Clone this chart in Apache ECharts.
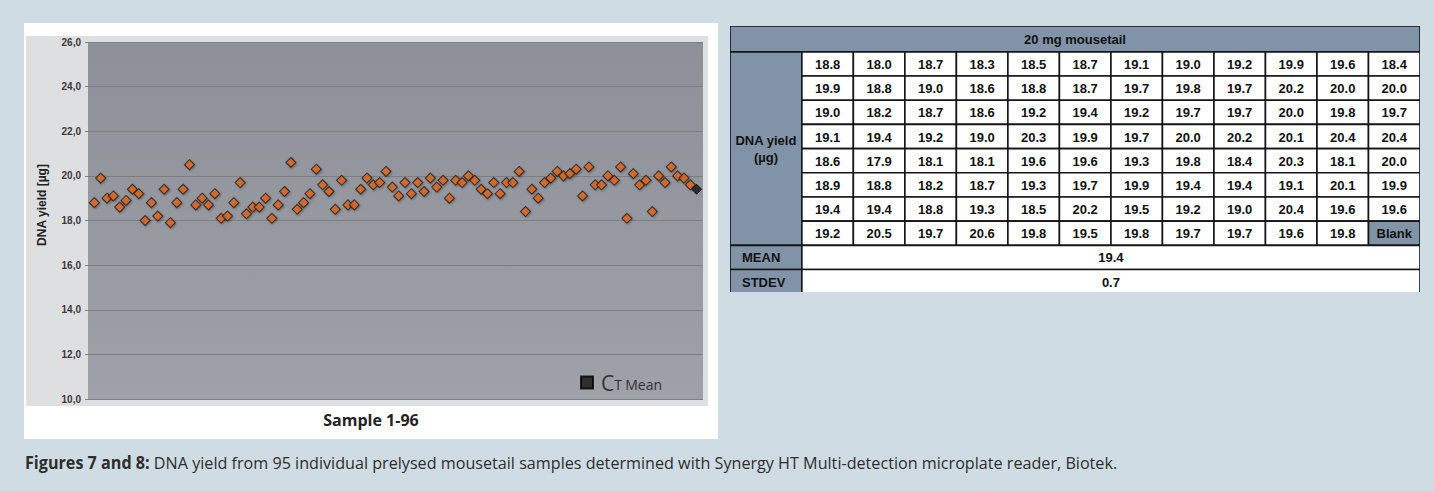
<!DOCTYPE html>
<html>
<head>
<meta charset="utf-8">
<script src="https://cdn.jsdelivr.net/npm/echarts@6/dist/echarts.min.js"></script>
<style>
html,body{margin:0;padding:0;background:#cfdce4;}
#chart{width:1434px;height:491px;}
</style>
</head>
<body>
<div id="chart"></div>
<script>
// ---- DATA (sample order 1..95, plate column by column, 8 wells per column) ----
const plateCol1  = [18.8, 19.9, 19.0, 19.1, 18.6, 18.9, 19.4, 19.2];
const plateCol2  = [18.0, 18.8, 18.2, 19.4, 17.9, 18.8, 19.4, 20.5];
const plateCol3  = [18.7, 19.0, 18.7, 19.2, 18.1, 18.2, 18.8, 19.7];
const plateCol4  = [18.3, 18.6, 18.6, 19.0, 18.1, 18.7, 19.3, 20.6];
const plateCol5  = [18.5, 18.8, 19.2, 20.3, 19.6, 19.3, 18.5, 19.8];
const plateCol6  = [18.7, 18.7, 19.4, 19.9, 19.6, 19.7, 20.2, 19.5];
const plateCol7  = [19.1, 19.7, 19.2, 19.7, 19.3, 19.9, 19.5, 19.8];
const plateCol8  = [19.0, 19.8, 19.7, 20.0, 19.8, 19.4, 19.2, 19.7];
const plateCol9  = [19.2, 19.7, 19.7, 20.2, 18.4, 19.4, 19.0, 19.7];
const plateCol10 = [19.9, 20.2, 20.0, 20.1, 20.3, 19.1, 20.4, 19.6];
const plateCol11 = [19.6, 20.0, 19.8, 20.4, 18.1, 20.1, 19.6, 19.8];
const plateCol12 = [18.4, 20.0, 19.7, 20.4, 20.0, 19.9, 19.6, null]; // last well = Blank
const plateColumns = [plateCol1, plateCol2, plateCol3, plateCol4, plateCol5, plateCol6,
                      plateCol7, plateCol8, plateCol9, plateCol10, plateCol11, plateCol12];
const meanValue = 19.4;
const stdevValue = 0.7;
const ctMeanSample = 96;
const yTicks = [10, 12, 14, 16, 18, 20, 22, 24, 26];
const tableTitle = '20 mg mousetail';
const rowLabel = 'DNA yield\n(µg)';
const blankLabel = 'Blank';

// ---- derived ----
const samples = [];
plateColumns.forEach(col => col.forEach(v => { if (v !== null) samples.push(v); }));
const scatterData = samples.map((v, i) => [i + 1, v]);

const LBL = -1.395; // left label column in column units
const cells = [];
cells.push([LBL, -1.07, 12, 0, tableTitle, 'head']);
cells.push([LBL, 0, 0, 8, rowLabel, 'head']);
plateColumns.forEach((col, c) => col.forEach((v, r) => {
  if (v === null) cells.push([c, r, c + 1, r + 1, blankLabel, 'head']);
  else cells.push([c, r, c + 1, r + 1, v.toFixed(1), 'cell']);
}));
cells.push([LBL, 8, 0, 9, 'MEAN', 'headLeft']);
cells.push([0, 8, 12, 9, meanValue.toFixed(1), 'cell']);
cells.push([LBL, 9, 0, 10, 'STDEV', 'headLeft']);
cells.push([0, 9, 12, 10, stdevValue.toFixed(1), 'cell']);

const chart = echarts.init(document.getElementById('chart'), null, {renderer: 'svg'});
const HUM = '"Open Sans", "Noto Sans", sans-serif';
const ARI = '"Liberation Sans", Arial, sans-serif';

chart.setOption({
  backgroundColor: '#cfdce4',
  animation: false,
  graphic: [
    {type: 'rect', z: -10, shape: {x: 24, y: 23, width: 694, height: 416}, style: {fill: '#ffffff'}},
    {type: 'rect', z: -9, shape: {x: 26, y: 36, width: 682, height: 370}, style: {fill: '#dedfe1'}},
    {type: 'text', z: 5, x: 42, y: 205, rotation: Math.PI / 2,
      style: {text: 'DNA yield [µg]', font: 'bold 12px ' + ARI, fill: '#222', align: 'center', verticalAlign: 'middle'}},
    {type: 'text', z: 5, x: 371, y: 420,
      style: {text: 'Sample 1-96', font: 'bold 16px ' + HUM, fill: '#222', align: 'center', verticalAlign: 'middle'}},
    {type: 'text', z: 5, x: 25, y: 462, scaleX: 0.95,
      style: {text: '{b|Figures 7 and 8:} DNA yield from 95 individual prelysed mousetail samples determined with Synergy HT Multi-detection microplate reader, Biotek.',
        verticalAlign: 'middle', fill: '#2e2e2e', font: '17px ' + HUM,
        rich: {b: {fontWeight: 'bold', fontFamily: HUM, fontSize: 17, fill: '#2e2e2e'}}}}
  ],
  legend: {
    show: true, data: ['CT Mean'], left: 580, top: 372, padding: 0, icon: 'rect',
    itemWidth: 12, itemHeight: 12, itemGap: 0,
    formatter: () => '{c|C}{t|T} {m|Mean}',
    textStyle: {
      color: '#333',
      rich: {
        c: {fontSize: 21, fontFamily: HUM, color: '#333', verticalAlign: 'bottom', padding: [0, 0, 0, 3]},
        t: {fontSize: 14, fontFamily: HUM, color: '#333', verticalAlign: 'bottom', padding: [0, 0, 2, 0]},
        m: {fontSize: 14, fontFamily: HUM, color: '#333', verticalAlign: 'bottom', padding: [0, 0, 2, 0]}
      }
    }
  },
  grid: [
    {left: 88, top: 42, width: 615, height: 357, show: true, borderWidth: 0,
      backgroundColor: new echarts.graphic.LinearGradient(0, 0, 0, 1, [
        {offset: 0, color: '#8d9098'}, {offset: 1, color: '#9ea1a8'}])},
    {left: 730, top: 26, width: 690, height: 266}
  ],
  xAxis: [
    {gridIndex: 0, type: 'value', min: 0, max: 97, show: false},
    {gridIndex: 1, type: 'value', min: LBL, max: 12, show: false}
  ],
  yAxis: [
    {gridIndex: 0, type: 'value', min: yTicks[0], max: yTicks[yTicks.length - 1], interval: 2,
      axisLine: {show: false},
      axisTick: {show: true, length: 3, lineStyle: {color: '#808080'}},
      axisLabel: {margin: 7, color: '#3a3a3a', fontSize: 10, fontWeight: 'bold', fontFamily: ARI,
        formatter: v => v.toFixed(1).replace('.', ',')},
      splitLine: {show: true, lineStyle: {color: '#7b7e85', width: 1}}},
    {gridIndex: 1, type: 'value', min: -1.07, max: 9.93, inverse: true, show: false}
  ],
  series: [
    {type: 'scatter', name: 'DNA yield', xAxisIndex: 0, yAxisIndex: 0, data: scatterData,
      symbol: 'diamond', symbolSize: 10,
      itemStyle: {color: '#e0661e', borderColor: '#251e1a', borderWidth: 1.1,
        shadowBlur: 2, shadowColor: 'rgba(0,0,0,0.35)', shadowOffsetX: 1, shadowOffsetY: 1}},
    {type: 'scatter', name: 'CT Mean', xAxisIndex: 0, yAxisIndex: 0, data: [[ctMeanSample, meanValue]],
      symbol: 'diamond', symbolSize: 10,
      itemStyle: {color: '#111', borderColor: '#000', borderWidth: 1}},
    {type: 'custom', name: 'table', xAxisIndex: 1, yAxisIndex: 1, clip: true, data: cells,
      encode: {x: [0, 2], y: [1, 3]},
      renderItem: function (params, api) {
        const d = cells[params.dataIndex];
        const p0 = api.coord([d[0], d[1]]);
        const p1 = api.coord([d[2], d[3]]);
        const kind = d[5];
        const x = p0[0], y = p0[1], w = p1[0] - p0[0], h = p1[1] - p0[1];
        const isHead = kind !== 'cell';
        return {
          type: 'group',
          children: [
            {type: 'rect', shape: {x: x, y: y, width: w, height: h},
              style: {fill: isHead ? '#8193a7' : '#ffffff', stroke: '#151515', lineWidth: 1.6}},
            {type: 'text',
              style: {text: d[4], x: kind === 'headLeft' ? x + 12 : x + w / 2, y: y + h / 2 + 0.5,
                align: kind === 'headLeft' ? 'left' : 'center', verticalAlign: 'middle',
                font: 'bold 13px ' + ARI, fill: '#111', lineHeight: 17}}
          ]
        };
      }}
  ]
});
</script>
</body>
</html>
